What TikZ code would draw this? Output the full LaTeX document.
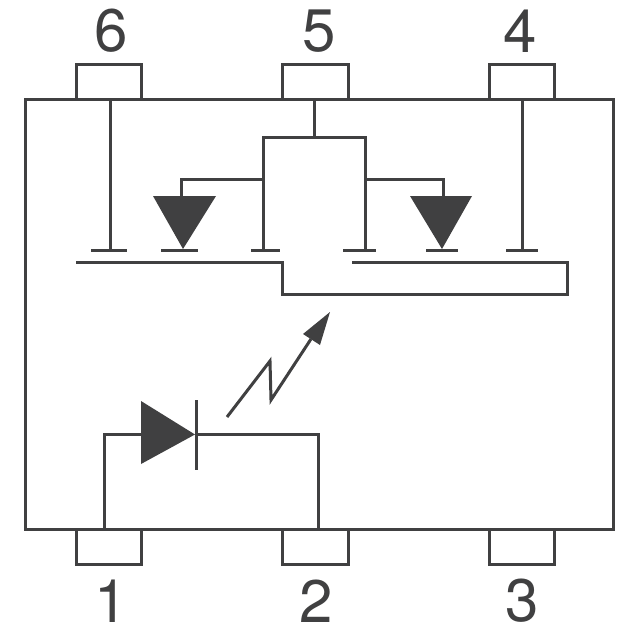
\documentclass[tikz,border=0pt]{standalone}
\usepackage{fontspec}
\setmainfont{TeX Gyre Heros}
\usetikzlibrary{positioning, calc}
\definecolor{ink}{HTML}{404041}

\begin{document}
\begin{tikzpicture}[x=1pt, y=-1pt, 
    line join=miter, 
    wire/.style={draw=ink, line width=3pt}, 
    solid part/.style={fill=ink}, 
    package/.style={rectangle, 
      draw=ink, 
      line width=3pt, 
      outer sep=0pt, 
      minimum width=587.5pt, 
      minimum height=430.3pt}, 
    pin/.style={rectangle, 
      draw=ink, 
      line width=3pt, 
      outer sep=0pt, 
      minimum width=65.5pt, 
      minimum height=35pt}, 
    pinlabel/.style={text=ink, 
      font=\fontsize{60}{60}\selectfont, 
      inner sep=0pt}]
  \useasboundingbox (0,0) rectangle (640,640);

  % PINS

  \node [pin, anchor=south] (pinsix) at (108.8,99) {};
  \node [pin, anchor=south] (pinfive) at (315.7,99) {};
  \node [pin, anchor=south] (pinfour) at (522.2,99) {};
  \node [pin, anchor=north] (pinone) at (108.8,529.3) {};
  \node [pin, anchor=north] (pintwo) at (315.7,529.3) {};
  \node [pin, anchor=north] (pinthree) at (522.2,529.3) {};

  \node [package] (body) at (319.25,314.15) {};

  \node [pinlabel] (labelsix) at (111,31) {6};
  \node [pinlabel] (labelfive) at (319,31) {5};
  \node [pinlabel] (labelfour) at (520.5,31) {4};
  \node [pinlabel] (labelone) at (111,601) {1};
  \node [pinlabel] (labeltwo) at (316.5,601) {2};
  \node [pinlabel] (labelthree) at (522,601) {3};

  % OUTPUT SIDE

  \coordinate (gatesix) at (110.5,250);
  \coordinate (gatefour) at (522,250);
  \coordinate (sourceleft) at (263,250);
  \coordinate (sourceright) at (365,250);
  \coordinate (stem) at (314,137);

  \draw[wire] (gatesix |- body.north) -- (gatesix);
  \draw[wire] (gatefour |- body.north) -- (gatefour);
  \draw[wire] (stem |- body.north) -- (stem);
  \draw[wire] (sourceleft) |- (stem) -| (sourceright);

  \draw[wire] (91,250) -- (127,250);
  \draw[wire] (161,250) -- (198,250);
  \draw[wire] (251,250) -- (280,250);
  \draw[wire] (343,250) -- (376,250);
  \draw[wire] (426,250) -- (458,250);
  \draw[wire] (506,250) -- (538,250);

  \coordinate (diodeleft) at (181,196);
  \coordinate (dioderight) at (443,196);

  \draw[wire] (sourceleft |- 0,179) -| (diodeleft);
  \draw[wire] (sourceright |- 0,179) -| (dioderight);

  \fill[solid part] (153,196) -- (216,196) -- (183,249) -- cycle;
  \fill[solid part] (410,196) -- (472,196) -- (442,249) -- cycle;

  \draw[wire] (76,262) -- (282.5,262) -- (282.5,294.5) -- (567,294.5) 
  -- (567,262) -- (352,262);

  % LED

  \coordinate (ledwest) at (141,434.5);
  \coordinate (ledeast) at (196.5,434.5);

  \draw[wire] (104.7,529) |- (ledwest);
  \draw[wire] (ledeast) -| (318.7,529);
  \fill[solid part] (141,401) -- (141,464) -- (195,434.5) -- cycle;
  \draw[wire] (196.5,400) -- (196.5,470);

  % LIGHT ARROW

  \draw[wire] (227,417) -- (270,361) -- (271,400) -- (311,339);
  \fill[solid part] (330,312) -- (303,334) -- (320,345) -- cycle;

\end{tikzpicture}
\end{document}
